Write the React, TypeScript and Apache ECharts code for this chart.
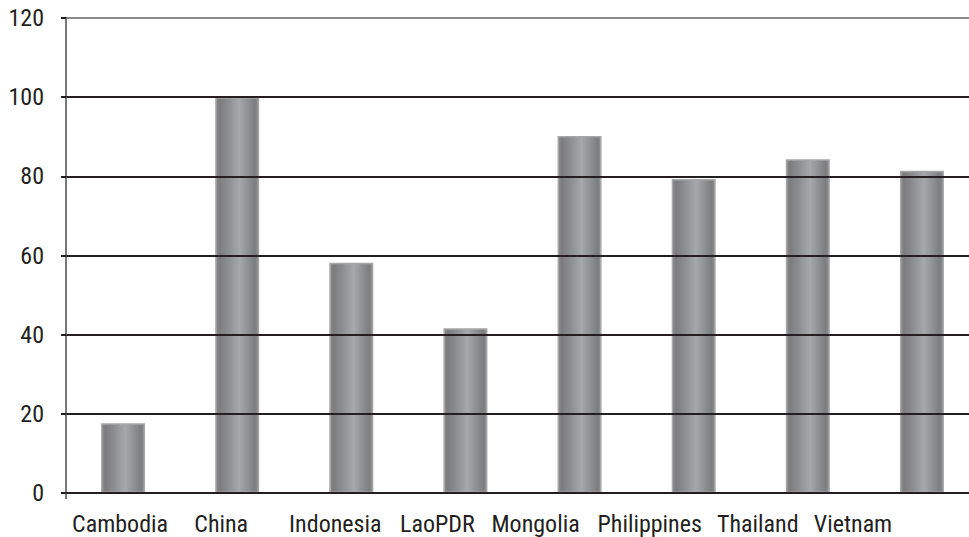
import React, { useEffect, useRef } from "react";
import * as echarts from "echarts";

const categories = ["Cambodia", "China", "Indonesia", "LaoPDR", "Mongolia", "Philippines", "Thailand", "Vietnam"];
const values = [17.6, 100, 58.2, 41.6, 90.2, 79.3, 84.3, 81.4];
const yTicks = [0, 20, 40, 60, 80, 100, 120];

// label horizontal shift (px, to the left) used to mimic the original's label placement
const labelShift = [3, 16, 16, 28, 44, 44, 50, 69];

const FONT = '"Liberation Sans Narrow", "Roboto Condensed", "Open Sans Condensed", "Liberation Sans", Arial, sans-serif';

export default function App() {
  const ref = useRef<HTMLDivElement>(null);
  useEffect(() => {
    if (!ref.current) return;
    const chart = echarts.init(ref.current, undefined, { renderer: "svg" });
    const rich: Record<string, any> = {};
    categories.forEach((_, i) => {
      rich["c" + i] = {
        fontFamily: FONT,
        fontSize: 24,
        color: "#231f20",
        padding: [0, labelShift[i] * 2, 0, 0],
      };
    });
    const barGradient = new echarts.graphic.LinearGradient(0, 0, 1, 0, [
      { offset: 0, color: "#8c8c8c" },
      { offset: 0.08, color: "#7c7c7e" },
      { offset: 0.3, color: "#8e8f91" },
      { offset: 0.55, color: "#a7a8aa" },
      { offset: 0.75, color: "#909193" },
      { offset: 0.92, color: "#7c7d7f" },
      { offset: 1, color: "#8e8e8e" },
    ]);
    chart.setOption({
      animation: false,
      backgroundColor: "#ffffff",
      grid: { left: 66, top: 18, width: 913, height: 475, containLabel: false },
      xAxis: {
        type: "category",
        data: categories,
        axisLine: { show: true, lineStyle: { color: "#231f20", width: 2 } },
        axisTick: {
          show: true,
          alignWithLabel: false,
          interval: (i: number) => i === 0,
          length: 6,
          lineStyle: { color: "#4d4d4d", width: 1.5 },
        },
        axisLabel: {
          interval: 0,
          margin: 19,
          formatter: (v: string) => `{c${categories.indexOf(v)}|${v}}`,
          rich,
        },
        z: 5,
      },
      yAxis: {
        type: "value",
        min: yTicks[0],
        max: yTicks[yTicks.length - 1],
        interval: 20,
        axisLine: { show: true, lineStyle: { color: "#4d4d4d", width: 1.5 } },
        axisTick: { show: true, length: 5, lineStyle: { color: "#231f20", width: 2 } },
        axisLabel: {
          fontFamily: FONT,
          fontSize: 24,
          color: "#231f20",
          margin: 22,
        },
        splitLine: {
          show: true,
          lineStyle: {
            color: ["#231f20", "#231f20", "#231f20", "#231f20", "#231f20", "#231f20", "#8a8a8a"],
            width: 2,
          },
        },
        z: 5,
      },
      series: [
        {
          type: "bar",
          data: values,
          barWidth: 44,
          itemStyle: {
            color: barGradient,
            borderColor: "#a6a6a6",
            borderWidth: 1.5,
          },
          z: 2,
        },
      ],
    });
    return () => chart.dispose();
  }, []);
  return (
    <div
      style={{ position: "fixed", left: 0, top: 0, width: 969, height: 537, overflow: "hidden", background: "#fff" }}
    >
      <div ref={ref} style={{ width: 995, height: 537 }} />
    </div>
  );
}
